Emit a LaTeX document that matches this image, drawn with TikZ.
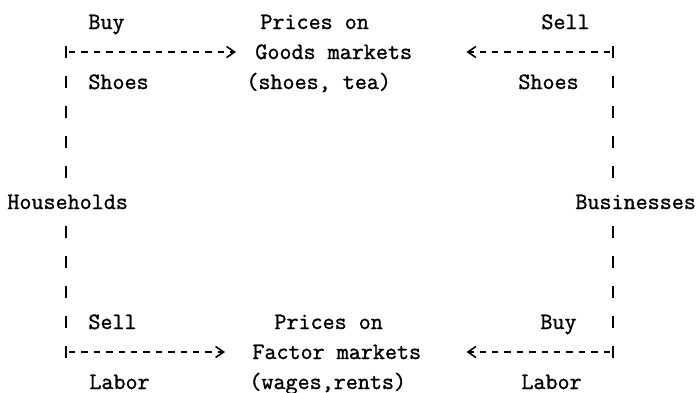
\documentclass[tikz,border=0pt]{standalone}
\usepackage{fontspec}
\newfontfamily\typewriter{Latin Modern Mono}[FakeBold=1.2]
\usetikzlibrary{arrows.meta}

\begin{document}
\begin{tikzpicture}[x=.5pt,y=-.5pt,
	txt/.style={font=\typewriter\fontsize{11.7}{13}\selectfont,inner sep=0pt,anchor=base west},
	vbar/.style={line width=.8pt,dash pattern=on 6pt off 9pt,shorten >=1pt},
	hdash/.style={line width=.8pt,dash pattern=on 3.2pt off 3pt,dash phase=4.7pt,-{Straight Barb[length=4pt,width=5.5pt]}}]
\useasboundingbox[fill=white] (0,0) rectangle (698,392);

\node (buyG) at (88,29) [txt] {Buy};
\node (pricesG) at (260,29) [txt] {Prices on};
\node (sellG) at (541,29) [txt] {Sell};
\node (goods) at (255,59) [txt] {Goods markets};
\node (shoesH) at (88,89) [txt] {Shoes};
\node (goodsEx) at (246,89) [txt] {(shoes, tea)};
\node (shoesB) at (518,89) [txt] {Shoes};
\node (hh) at (7,209) [txt] {Households};
\node (bz) at (575,209) [txt] {Businesses};
\node (sellF) at (88,329) [txt] {Sell};
\node (pricesF) at (274,329) [txt] {Prices on};
\node (buyF) at (540,329) [txt] {Buy};
\node (factor) at (252,359) [txt] {Factor markets};
\node (laborH) at (89,389) [txt] {Labor};
\node (factorEx) at (249,389) [txt] {(wages,rents)};
\node (laborB) at (521,389) [txt] {Labor};

\coordinate (gl) at (66,52);
\coordinate (gr) at (613,52);
\coordinate (fl) at (66,352);
\coordinate (fr) at (613,352);

\draw[vbar] ([yshift=3pt]gl) -- (gl |- hh.north);
\draw[vbar] ([yshift=3pt]gr) -- (gr |- bz.north);
\draw[vbar] ([yshift=-3pt]fl) -- (fl |- hh.south);
\draw[vbar] ([yshift=-3pt]fr) -- (fr |- bz.south);

\draw[hdash,shorten >=9.5pt] (gl) -- (gl -| goods.west);
\draw[hdash,shorten >=27pt] (gr) -- (gr -| goods.east);
\draw[hdash,shorten >=13.5pt] (fl) -- (fl -| factor.west);
\draw[hdash,shorten >=22.5pt] (fr) -- (fr -| factor.east);
\end{tikzpicture}
\end{document}
